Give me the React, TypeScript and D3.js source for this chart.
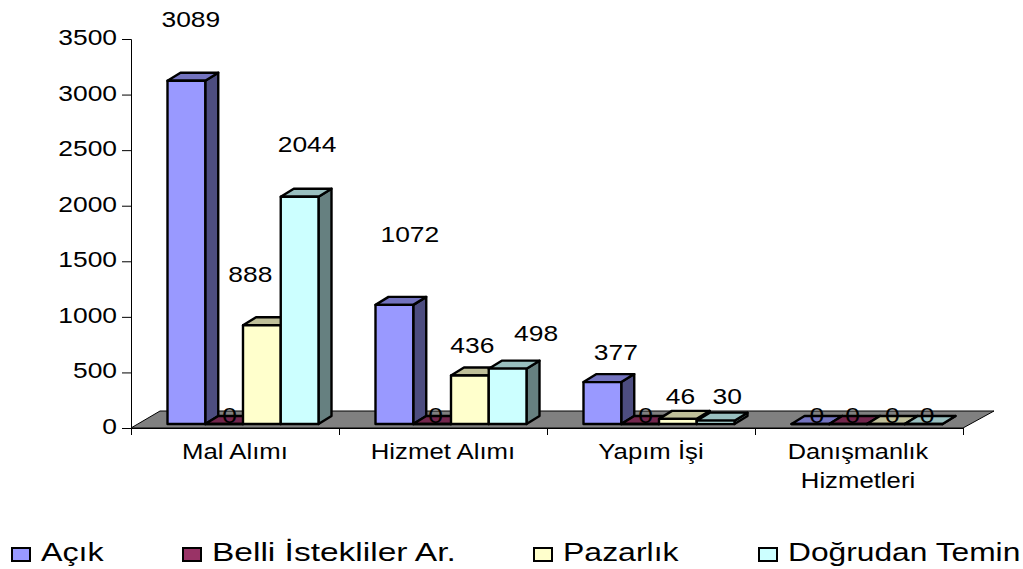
import React, { useEffect, useRef } from 'react';
import * as d3 from 'd3';

const categories = ['Mal Alımı', 'Hizmet Alımı', 'Yapım İşi', 'Danışmanlık Hizmetleri'];
const seriesNames = ['Açık', 'Belli İstekliler Ar.', 'Pazarlık', 'Doğrudan Temin'];
const acik = [3089, 1072, 377, 0];
const belli = [0, 0, 0, 0];
const pazarlik = [888, 436, 46, 0];
const dogrudan = [2044, 498, 30, 0];
const yTicks = [0, 500, 1000, 1500, 2000, 2500, 3000, 3500];

const frontColors = ['#9999ff', '#993366', '#ffffcc', '#ccffff'];
const topColors = ['#7373bf', '#73264d', '#bfbf99', '#99bfbf'];
const sideColors = ['#4d4d80', '#4d1a33', '#808066', '#668080'];

// data label offsets from the bar's front top centre: [dx, dy], one row per series
const labelOffsets = [
  [[5, -62], [16, -71], [14, -30], [7, -9]],
  [[6, -9], [4, -9], [6, -9], [5, -9]],
  [[-11, -51], [3, -31], [3, -23], [7, -9]],
  [[8, -53], [29, -36], [12, -25], [4, -9]],
];

// horizontal stretch of each legend text
const legendStretch = [1.29, 1.34, 1.28, 1.27];

const FONT = '"Liberation Sans", Arial, sans-serif';
const STRETCH = 1.2;

const App = () => {
  const svgRef = useRef<SVGSVGElement>(null);

  useEffect(() => {
    const svg = d3.select(svgRef.current);
    svg.selectAll('*').remove();

    const series = [acik, belli, pazarlik, dogrudan];
    const depthX = 13;
    const depthY = 8;
    const baseInset = 4;

    const y = d3.scaleLinear().domain([0, 3500]).range([428, 39]);
    const edges = d3.scaleLinear().domain([0, 4]).range([131, 963]);
    const x0 = d3.scaleBand().domain(categories).range([131, 963]);
    const x1 = d3.scaleBand().domain(seriesNames).range([36, 187]);
    const poly = d3.line();

    const addText = (
      parent: any,
      str: string,
      tx: number,
      ty: number,
      anchor = 'middle',
      sx = STRETCH,
      size = 22,
    ) =>
      parent
        .append('text')
        .attr('transform', `translate(${tx},${ty}) scale(${sx},1)`)
        .attr('text-anchor', anchor)
        .attr('font-family', FONT)
        .attr('font-size', size)
        .attr('fill', '#000')
        .text(str);

    // floor
    svg
      .append('path')
      .attr('d', poly([
        [edges(0), y(0)],
        [edges(0) + 29, y(0) - 17],
        [edges(4) + 31, y(0) - 17],
        [edges(4), y(0)],
      ]) + 'Z')
      .attr('fill', '#808080')
      .attr('stroke', '#000')
      .attr('stroke-width', 1);

    // axes
    const yAxis = d3.axisLeft(y).tickValues(yTicks).tickSize(9).tickFormat(() => '');
    const xAxis = d3.axisBottom(edges).tickValues([0, 1, 2, 3, 4]).tickSize(7).tickFormat(() => '');
    svg.append('g').attr('transform', 'translate(131,0)').call(yAxis as any).select('.domain').attr('stroke', '#000');
    svg.append('g').attr('transform', 'translate(0,428)').call(xAxis as any);

    yTicks.forEach((t) => {
      addText(svg, String(t), 117, y(t) + 6, 'end');
    });

    // bars
    const bars = svg.append('g').attr('stroke', '#000').attr('stroke-width', 2.4).attr('stroke-linejoin', 'round');
    categories.forEach((cat, c) => {
      seriesNames.forEach((name, s) => {
        const v = series[s][c];
        const left = x0(cat)! + x1(name)! + 0.5;
        const right = left + x1.bandwidth();
        const base = y(0) - baseInset;
        const top = y(v) - baseInset;
        bars.append('path')
          .attr('d', poly([[right, base], [right + depthX, base - depthY], [right + depthX, top - depthY], [right, top]]) + 'Z')
          .attr('fill', sideColors[s]);
        bars.append('path')
          .attr('d', poly([[left, top], [left + depthX, top - depthY], [right + depthX, top - depthY], [right, top]]) + 'Z')
          .attr('fill', topColors[s]);
        bars.append('path')
          .attr('d', poly([[left, base], [right, base], [right, top], [left, top]]) + 'Z')
          .attr('fill', frontColors[s]);
      });
    });

    // data labels
    categories.forEach((cat, c) => {
      seriesNames.forEach((name, s) => {
        const v = series[s][c];
        const cx = x0(cat)! + x1(name)! + x1.bandwidth() / 2;
        const [dx, dy] = labelOffsets[s][c];
        addText(svg, String(v), cx + dx, y(v) - baseInset + dy + 8);
      });
    });

    // category labels
    categories.forEach((cat) => {
      const cx = x0(cat)! + x0.bandwidth() / 2;
      if (cat === 'Danışmanlık Hizmetleri') {
        addText(svg, 'Danışmanlık', cx - 1, 459, 'middle', 1.15);
        addText(svg, 'Hizmetleri', cx - 1, 488, 'middle', 1.17);
      } else {
        addText(svg, cat, cx, 459, 'middle', 1.17);
      }
    });

    // legend
    const legendX = d3.scaleOrdinal<string, number>().domain(seriesNames).range([12, 183, 534, 759]);
    seriesNames.forEach((name, s) => {
      svg.append('rect')
        .attr('x', legendX(name))
        .attr('y', 548)
        .attr('width', 18)
        .attr('height', 13)
        .attr('fill', frontColors[s])
        .attr('stroke', '#000')
        .attr('stroke-width', 2);
      addText(svg, name, legendX(name) + 29, 561, 'start', legendStretch[s], 25);
    });
  }, []);

  return (
    <svg
      ref={svgRef}
      width={1023}
      height={569}
      style={{ position: 'absolute', left: 0, top: 0, background: '#fff' }}
    />
  );
};

export default App;
